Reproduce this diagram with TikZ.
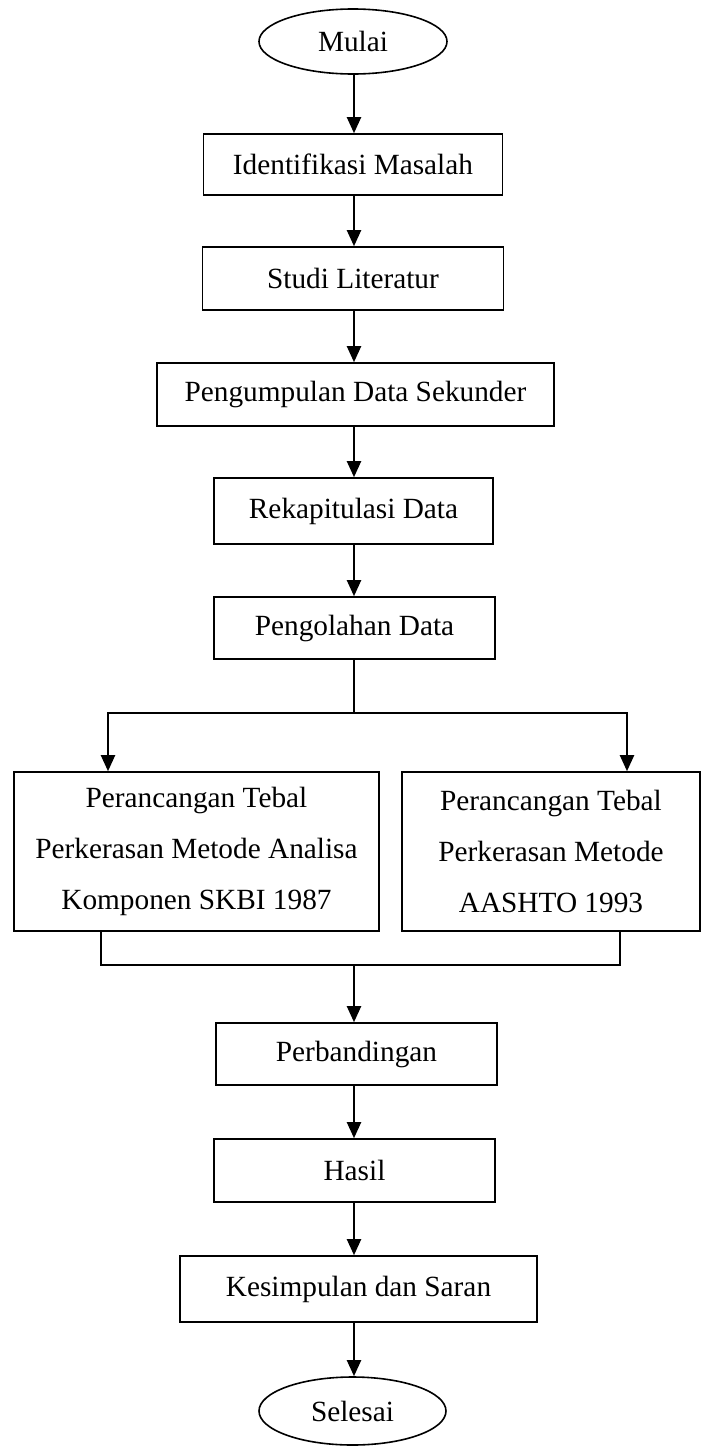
\documentclass[tikz,border=0pt]{standalone}
\usepackage{fontspec}
\setmainfont{Liberation Serif}
\usetikzlibrary{arrows.meta,shapes.geometric}
\tikzset{
  procbox/.style={draw, line width=1.6pt, rectangle, inner sep=0pt, align=center,
    font=\fontsize{29.3}{51}\selectfont},
  termnode/.style={draw, line width=1.6pt, ellipse, inner sep=0pt,
    font=\fontsize{29.3}{51}\selectfont},
  arr/.style={line width=2.1pt, -{Triangle[width=14pt,length=16pt]}},
  lin/.style={line width=1.8pt},
}
\begin{document}
\begin{tikzpicture}[x=1pt,y=-1pt]
\useasboundingbox (0,0) rectangle (707,1446);
\node[termnode, minimum width=188pt, minimum height=65pt] (mulai) at (353,41.5) {Mulai};
\node[procbox, minimum width=299pt, minimum height=61pt] (ident) at (353,164.5) {Identifikasi Masalah};
\node[procbox, minimum width=301pt, minimum height=63pt] (studi) at (353,278.5) {Studi Literatur};
\node[procbox, minimum width=397pt, minimum height=63pt] (kumpul) at (355.5,394.5) {Pengumpulan Data Sekunder};
\node[procbox, minimum width=279pt, minimum height=66pt] (rekap) at (353.5,511) {Rekapitulasi Data};
\node[procbox, minimum width=281pt, minimum height=62pt] (olah) at (354.5,628) {Pengolahan Data};
\node[procbox, minimum width=365pt, minimum height=159pt] (kiri) at (196.5,851.5)
  {Perancangan Tebal\\Perkerasan Metode Analisa\\Komponen SKBI 1987};
\node[procbox, minimum width=298pt, minimum height=159pt] (kanan) at (551,851.5)
  {Perancangan Tebal\\Perkerasan Metode\\AASHTO 1993};
\node[procbox, minimum width=281pt, minimum height=62pt] (banding) at (356.5,1054) {Perbandingan};
\node[procbox, minimum width=281pt, minimum height=63pt] (hasil) at (354.5,1170.5) {Hasil};
\node[procbox, minimum width=357pt, minimum height=66pt] (simpul) at (358.5,1289) {Kesimpulan dan Saran};
\node[termnode, minimum width=187pt, minimum height=68pt] (selesai) at (352.5,1411) {Selesai};

\coordinate (bc) at (354,713);
\coordinate (bl) at (108,713);
\coordinate (br) at (627,713);
\coordinate (ml) at (101,965);
\coordinate (mr) at (620,965);
\coordinate (mc) at (354,965);

\draw[arr] (mulai.south -| bc) -- (bc |- ident.north);
\draw[arr] (ident.south -| bc) -- (bc |- studi.north);
\draw[arr] (studi.south -| bc) -- (bc |- kumpul.north);
\draw[arr] (kumpul.south -| bc) -- (bc |- rekap.north);
\draw[arr] (rekap.south -| bc) -- (bc |- olah.north);
\draw[lin] (olah.south -| bc) -- (bc);
\draw[arr] (bc) -- (bl) -- (bl |- kiri.north);
\draw[arr] (bc) -- (br) -- (br |- kanan.north);
\draw[lin] (kiri.south -| ml) -- (ml) -- (mr) -- (kanan.south -| mr);
\draw[arr] (mc) -- (mc |- banding.north);
\draw[arr] (banding.south -| bc) -- (bc |- hasil.north);
\draw[arr] (hasil.south -| bc) -- (bc |- simpul.north);
\draw[arr] (simpul.south -| bc) -- (bc |- selesai.north);
\end{tikzpicture}
\end{document}
